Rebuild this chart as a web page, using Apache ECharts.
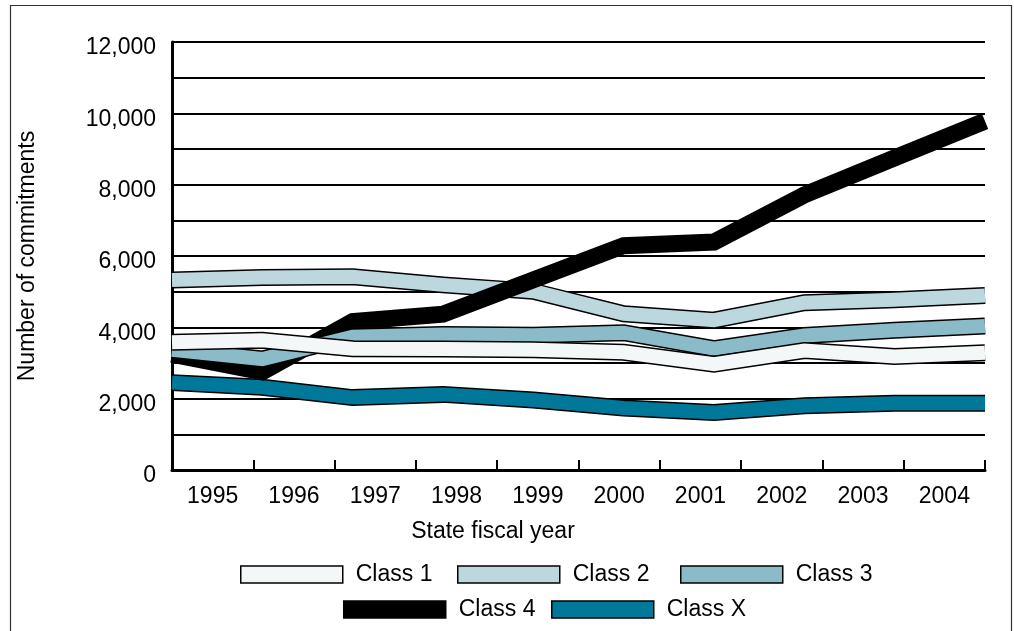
<!DOCTYPE html>
<html>
<head>
<meta charset="utf-8">
<title>Commitments by class</title>
<script src="https://cdn.jsdelivr.net/npm/echarts@6/dist/echarts.min.js"></script>
<style>
  html, body { margin: 0; padding: 0; background: #fff; }
  #chart { width: 1014px; height: 631px; }
</style>
</head>
<body>
<div id="chart"></div>
<script>
// values
const years = ["1995", "1996", "1997", "1998", "1999", "2000", "2001", "2002", "2003", "2004"];
const class1 = [3580, 3640, 3400, 3390, 3370, 3300, 2970, 3350, 3180, 3290];
const class2 = [5330, 5400, 5420, 5190, 5010, 4380, 4200, 4690, 4770, 4890];
const class3 = [3370, 3110, 3740, 3800, 3780, 3850, 3400, 3770, 3920, 4040];
const class4 = [3250, 2750, 4160, 4370, 5330, 6290, 6390, 7710, 8750, 9780];
const classX = [2450, 2320, 2030, 2120, 1960, 1740, 1610, 1800, 1870, 1870];
const yTicks = [0, 2000, 4000, 6000, 8000, 10000, 12000];

const FONT = "Liberation Sans, Arial, sans-serif";
const FS = 23;

// a thick band with a thin black edge: black line underneath, colour on top
function ribbon(name, data, color, z) {
  const base = {
    type: "line",
    xAxisIndex: 1,
    data: data,
    showSymbol: false,
    symbol: "none",
    silent: true,
    animation: false,
  };
  if (color === "#000000") {
    return [{ ...base, name: name, z: z, lineStyle: { color: color, width: 17, cap: "butt", join: "miter" } }];
  }
  return [
    { ...base, name: name + " edge", z: z, lineStyle: { color: "#000", width: 17, cap: "butt", join: "miter" } },
    { ...base, name: name, z: z + 1, lineStyle: { color: color, width: 14, cap: "butt", join: "miter" } },
  ];
}

const series = [
  ...ribbon("Class X", classX, "#00789a", 2),
  ...ribbon("Class 2", class2, "#bcd7dd", 4),
  ...ribbon("Class 4", class4, "#000000", 6),
  ...ribbon("Class 3", class3, "#8bbac8", 8),
  ...ribbon("Class 1", class1, "#f3f7f8", 10),
];

const legendItems = [
  { name: "Class 1", color: "#f3f7f8", left: 240, top: 563 },
  { name: "Class 2", color: "#bcd7dd", left: 457, top: 563 },
  { name: "Class 3", color: "#8bbac8", left: 680, top: 563 },
  { name: "Class 4", color: "#000000", left: 343, top: 598 },
  { name: "Class X", color: "#00789a", left: 551, top: 598 },
];

const legends = legendItems.map((it) => ({
  left: it.left,
  top: it.top,
  padding: 0,
  itemWidth: 102,
  itemHeight: 17,
  selectedMode: false,
  textStyle: { fontFamily: FONT, fontSize: FS, color: "#000", padding: [0, 0, 0, 8] },
  data: [
    {
      name: it.name,
      icon: "rect",
      itemStyle: { color: it.color, borderColor: "#000", borderWidth: 1.5 },
    },
  ],
}));

const chart = echarts.init(document.getElementById("chart"), null, { renderer: "canvas" });

chart.setOption({
  animation: false,
  backgroundColor: "#fff",
  grid: { left: 172, right: 29, top: 42, bottom: 161 },
  legend: legends,
  graphic: [
    {
      type: "rect",
      silent: true,
      shape: { x: 10.5, y: 5.5, width: 1001, height: 660 },
      style: { fill: "none", stroke: "#333", lineWidth: 1.2 },
    },
    {
      type: "text",
      silent: true,
      x: 493,
      y: 532,
      style: {
        text: "State fiscal year",
        fontFamily: FONT,
        fontSize: FS,
        fill: "#000",
        textAlign: "center",
        textVerticalAlign: "middle",
      },
    },
  ],
  xAxis: [
    {
      type: "category",
      data: years,
      boundaryGap: true,
      axisLine: { lineStyle: { color: "#000", width: 3 } },
      axisTick: { show: true, inside: true, length: 10, lineStyle: { color: "#000", width: 2 } },
      axisLabel: { fontFamily: FONT, fontSize: FS, color: "#000", margin: 15 },
      splitLine: { show: false },
    },
    {
      type: "category",
      data: years,
      boundaryGap: false,
      show: false,
    },
  ],
  yAxis: {
    type: "value",
    min: 0,
    max: 12000,
    interval: 1000,
    name: "Number of commitments",
    nameLocation: "middle",
    nameGap: 133,
    nameTextStyle: { fontFamily: FONT, fontSize: FS, color: "#000" },
    axisLine: { show: true, lineStyle: { color: "#000", width: 3 } },
    axisTick: { show: false },
    axisLabel: {
      fontFamily: FONT,
      fontSize: FS,
      color: "#000",
      margin: 16,
      verticalAlign: "top",
      lineHeight: 12,
      formatter: (v) => (yTicks.includes(v) ? v.toLocaleString("en-US") : ""),
    },
    splitLine: { show: true, lineStyle: { color: "#000", width: 2 } },
  },
  series: series,
});
</script>
</body>
</html>
